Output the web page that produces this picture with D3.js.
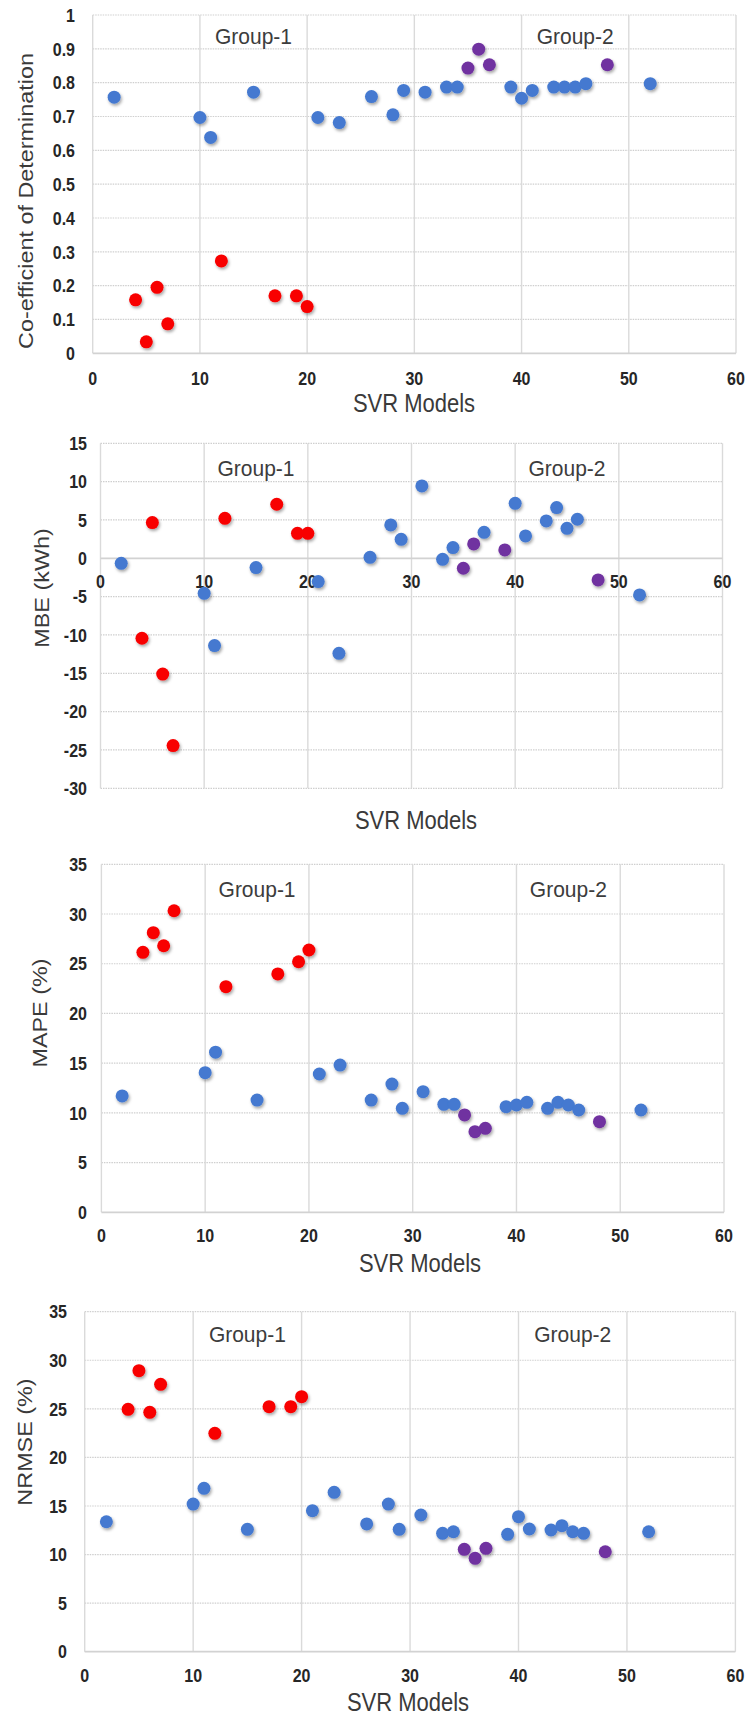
<!DOCTYPE html>
<html>
<head>
<meta charset="utf-8">
<script src="https://cdn.jsdelivr.net/npm/d3@7"></script>
<style>
  html, body { margin: 0; padding: 0; background: #fff; }
  svg { display: block; }
</style>
</head>
<body>
<svg id="chart" width="750" height="1717"></svg>
<script>
// ---- data -------------------------------------------------------------
const models = [2, 4, 5, 6, 7, 10, 11, 12, 15, 17, 19, 20, 21, 23, 26, 28,
                29, 31, 33, 34, 35, 36, 37, 39, 40, 41, 43, 44, 45, 46, 48, 52];

const r2Values = [0.757, 0.158, 0.034, 0.195, 0.087, 0.697, 0.638, 0.273, 0.772, 0.170, 0.170, 0.138,
                  0.697, 0.682, 0.759, 0.705, 0.777, 0.772, 0.787, 0.787, 0.843, 0.899, 0.853, 0.787,
                  0.754, 0.777, 0.787, 0.787, 0.787, 0.797, 0.853, 0.797];

const mbeValues = [-0.65, -10.43, 4.66, -15.1, -24.43, -4.57, -11.39, 5.22, -1.21, 7.05, 3.26, 3.26,
                   -3.04, -12.39, 0.13, 4.35, 2.48, 9.44, -0.13, 1.40, -1.30, 1.87, 3.39, 1.09,
                   7.17, 2.92, 4.87, 6.61, 3.91, 5.09, -2.82, -4.78];

const mapeValues = [11.7, 26.15, 28.12, 26.81, 30.33, 14.04, 16.1, 22.69, 11.29, 23.97, 25.2, 26.38,
                    13.91, 14.81, 11.29, 12.9, 10.46, 12.13, 10.86, 10.86, 9.79, 8.11, 8.45, 10.62,
                    10.79, 11.06, 10.46, 11.06, 10.79, 10.29, 9.11, 10.29];

const nrmseValues = [13.38, 24.95, 28.93, 24.64, 27.52, 15.2, 16.82, 22.48, 12.6, 25.22, 25.22, 26.25,
                     14.52, 16.41, 13.15, 15.2, 12.6, 14.07, 12.19, 12.35, 10.54, 9.61, 10.64, 12.08,
                     13.9, 12.63, 12.53, 12.97, 12.35, 12.19, 10.29, 12.35];

// models drawn in red (poor fits) and purple (best fits) in each panel
const weakModels = [4, 5, 6, 7, 12, 17, 19, 20];
const bestR2 = [35, 36, 37, 48];
const bestMBE = [35, 36, 39, 48];
const bestMAPE = [35, 36, 37, 48];
const bestNRMSE = [35, 36, 37, 48];

const xTicks = [0, 10, 20, 30, 40, 50, 60];
const r2Ticks = [0, 0.1, 0.2, 0.3, 0.4, 0.5, 0.6, 0.7, 0.8, 0.9, 1];
const mbeTicks = [-30, -25, -20, -15, -10, -5, 0, 5, 10, 15];
const pctTicks = [0, 5, 10, 15, 20, 25, 30, 35];

const groupLabels = ["Group-1", "Group-2"];
const groupLabelAt = [15, 45];
const xTitle = "SVR Models";
const yTitles = ["Co-efficient of Determination", "MBE (kWh)", "MAPE (%)", "NRMSE (%)"];

// ---- styling ---------------------------------------------------------
const COLORS = { base: "#4479D0", weak: "#F80000", best: "#7030A0" };
const FONT = "'Liberation Sans', Arial, Helvetica, sans-serif";
const STRETCH = 1.17;   // tall lettering

const panels = [
  { values: r2Values, best: bestR2, ticks: r2Ticks, domain: [0, 1], groupY: 0.937,
    fmt: d => String(+d.toFixed(1)), title: yTitles[0],
    left: 92.7, right: 736, top: 15, bottom: 353.3,
    xLabelY: 378, yLabelRight: 75, titleX: 26, titleY: 201, xTitleX: 414, xTitleY: 403 },
  { values: mbeValues, best: bestMBE, ticks: mbeTicks, domain: [-30, 15], groupY: 11.8,
    fmt: d => String(d), title: yTitles[1],
    left: 100.5, right: 722.5, top: 443.3, bottom: 788.3,
    xLabelY: 581.7, yLabelRight: 87, titleX: 42, titleY: 588, xTitleX: 416, xTitleY: 820 },
  { values: mapeValues, best: bestMAPE, ticks: pctTicks, domain: [0, 35], groupY: 32.5,
    fmt: d => String(d), title: yTitles[2],
    left: 101.4, right: 724, top: 864.3, bottom: 1212.3,
    xLabelY: 1235, yLabelRight: 87, titleX: 40, titleY: 1013, xTitleX: 420, xTitleY: 1263 },
  { values: nrmseValues, best: bestNRMSE, ticks: pctTicks, domain: [0, 35], groupY: 32.7,
    fmt: d => String(d), title: yTitles[3],
    left: 84.7, right: 735.4, top: 1311.7, bottom: 1651.7,
    xLabelY: 1675, yLabelRight: 67, titleX: 25, titleY: 1442, xTitleX: 408, xTitleY: 1701.7 }
];

const svg = d3.select("#chart");

const defs = svg.append("defs");
const shadow = defs.append("filter").attr("id", "dotShadow")
  .attr("x", "-60%").attr("y", "-60%").attr("width", "220%").attr("height", "220%");
shadow.append("feDropShadow")
  .attr("dx", 1.2).attr("dy", 2).attr("stdDeviation", 1.6)
  .attr("flood-color", "#000").attr("flood-opacity", 0.35);

function markerColor(model, best) {
  if (weakModels.includes(model)) return COLORS.weak;
  if (best.includes(model)) return COLORS.best;
  return COLORS.base;
}

panels.forEach(p => {
  const x = d3.scaleLinear().domain([0, 60]).range([p.left, p.right]);
  const y = d3.scaleLinear().domain(p.domain).range([p.bottom, p.top]);
  const g = svg.append("g");

  // horizontal gridlines (dotted), skipping the axis line at zero
  g.append("g").selectAll("line")
    .data(p.ticks.filter(t => t !== 0))
    .join("line")
    .attr("x1", x(0)).attr("x2", x(60))
    .attr("y1", d => y(d)).attr("y2", d => y(d))
    .attr("stroke", "#cfcfcf").attr("stroke-width", 1.2)
    .attr("stroke-dasharray", "1.5,1");

  // vertical gridlines (solid)
  g.append("g").selectAll("line")
    .data(xTicks)
    .join("line")
    .attr("x1", d => x(d)).attr("x2", d => x(d))
    .attr("y1", y(p.domain[0])).attr("y2", y(p.domain[1]))
    .attr("stroke", "#dadada").attr("stroke-width", 1.4);

  // horizontal axis line at zero
  g.append("line")
    .attr("x1", x(0)).attr("x2", x(60))
    .attr("y1", y(0)).attr("y2", y(0))
    .attr("stroke", "#d2d2d2").attr("stroke-width", 1.8);

  // y tick labels
  g.append("g").selectAll("text")
    .data(p.ticks)
    .join("text")
    .attr("transform", d => `translate(${p.yLabelRight},${y(d)}) scale(1,${STRETCH})`)
    .attr("dy", "0.36em")
    .attr("text-anchor", "end")
    .attr("font-family", FONT).attr("font-weight", "bold").attr("font-size", 16)
    .attr("fill", "#262626")
    .text(p.fmt);

  // x tick labels
  g.append("g").selectAll("text")
    .data(xTicks)
    .join("text")
    .attr("transform", d => `translate(${x(d)},${p.xLabelY}) scale(1,${STRETCH})`)
    .attr("dy", "0.36em")
    .attr("text-anchor", "middle")
    .attr("font-family", FONT).attr("font-weight", "bold").attr("font-size", 16)
    .attr("fill", "#262626")
    .text(d => String(d));

  // group annotations
  g.append("g").selectAll("text")
    .data(groupLabels)
    .join("text")
    .attr("transform", (d, i) => `translate(${x(groupLabelAt[i])},${y(p.groupY)}) scale(1,1.05)`)
    .attr("dy", "0.36em")
    .attr("text-anchor", "middle")
    .attr("font-family", FONT).attr("font-size", 21)
    .attr("fill", "#3c3c3c")
    .text(d => d);

  // axis titles
  g.append("text")
    .attr("transform", `translate(${p.xTitleX},${p.xTitleY}) scale(1,${STRETCH})`)
    .attr("dy", "0.36em")
    .attr("text-anchor", "middle")
    .attr("font-family", FONT).attr("font-size", 22)
    .attr("fill", "#3a3a3a")
    .text(xTitle);

  g.append("text")
    .attr("transform", `translate(${p.titleX},${p.titleY}) rotate(-90) scale(${STRETCH},1)`)
    .attr("dy", "0.36em")
    .attr("text-anchor", "middle")
    .attr("font-family", FONT).attr("font-size", 20)
    .attr("fill", "#3a3a3a")
    .text(p.title);

  // markers
  g.append("g").attr("filter", "url(#dotShadow)")
    .selectAll("circle")
    .data(models.map((m, i) => ({ m, v: p.values[i] })))
    .join("circle")
    .attr("cx", d => x(d.m))
    .attr("cy", d => y(d.v))
    .attr("r", 6.5)
    .attr("fill", d => markerColor(d.m, p.best));
});
</script>
</body>
</html>
